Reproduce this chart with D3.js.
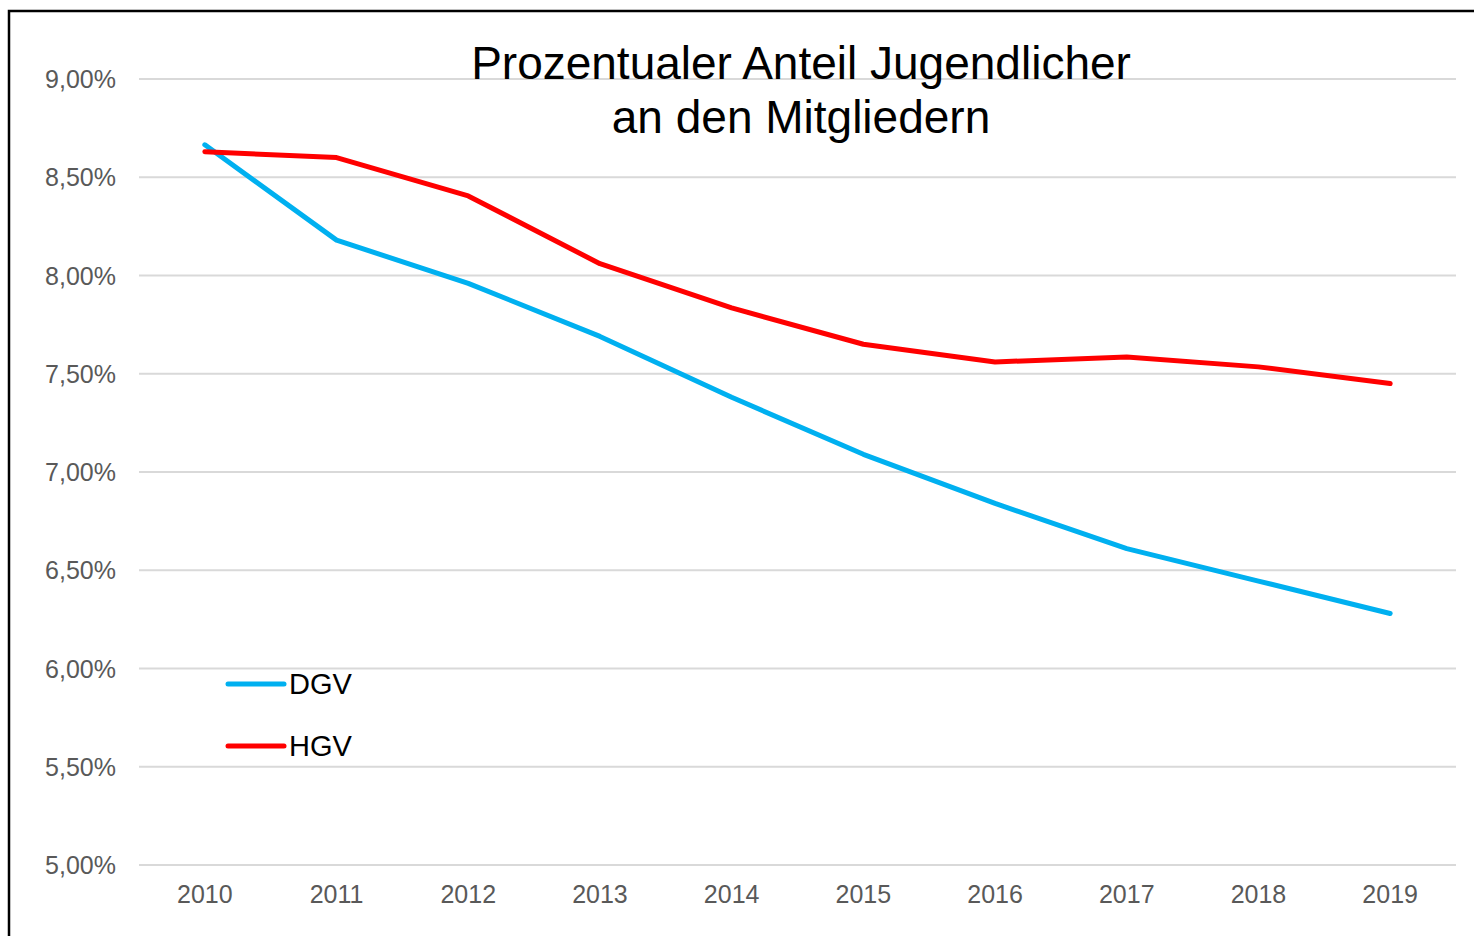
<!DOCTYPE html>
<html>
<head>
<meta charset="utf-8">
<script src="https://cdn.jsdelivr.net/npm/d3@7"></script>
<style>
  body { margin: 0; background: #fff; }
  text { font-family: "Liberation Sans", Arial, sans-serif; }
</style>
</head>
<body>
<div id="chart"></div>
<script>
// data
var years = ["2010", "2011", "2012", "2013", "2014", "2015", "2016", "2017", "2018", "2019"];
var dgv = [8.665, 8.18, 7.96, 7.69, 7.38, 7.09, 6.84, 6.61, 6.445, 6.28];
var hgv = [8.63, 8.60, 8.405, 8.06, 7.835, 7.65, 7.56, 7.585, 7.535, 7.45];
var yTicks = [5.0, 5.5, 6.0, 6.5, 7.0, 7.5, 8.0, 8.5, 9.0];
var seriesNames = ["DGV", "HGV"];
var seriesColors = ["#00b0f0", "#ff0000"];

var width = 1474, height = 936;
var margin = {top: 79, right: 18, bottom: 71, left: 139};

var svg = d3.select("#chart").append("svg")
    .attr("width", width)
    .attr("height", height);

// outer frame
svg.append("rect")
    .attr("x", 9).attr("y", 11)
    .attr("width", width + 20).attr("height", height + 20)
    .attr("fill", "none")
    .attr("stroke", "#000")
    .attr("stroke-width", 2.5);

var x = d3.scalePoint()
    .domain(years)
    .range([margin.left, width - margin.right])
    .padding(0.5);

var y = d3.scaleLinear()
    .domain([5, 9])
    .range([height - margin.bottom, margin.top]);

// gridlines
svg.append("g")
    .selectAll("line")
    .data(yTicks)
    .join("line")
    .attr("x1", margin.left)
    .attr("x2", width - margin.right)
    .attr("y1", function(d) { return y(d); })
    .attr("y2", function(d) { return y(d); })
    .attr("stroke", "#d9d9d9")
    .attr("stroke-width", 2);

// y labels
var fmt = function(d) { return d.toFixed(2).replace(".", ",") + "%"; };
svg.append("g")
    .selectAll("text")
    .data(yTicks)
    .join("text")
    .attr("x", 116)
    .attr("y", function(d) { return y(d) + 9; })
    .attr("text-anchor", "end")
    .attr("fill", "#595959")
    .style("font-size", "25px")
    .text(fmt);

// x labels
svg.append("g")
    .selectAll("text")
    .data(years)
    .join("text")
    .attr("x", function(d) { return x(d); })
    .attr("y", 903)
    .attr("text-anchor", "middle")
    .attr("fill", "#595959")
    .style("font-size", "25px")
    .text(function(d) { return d; });

// lines
var line = d3.line()
    .x(function(d, i) { return x(years[i]); })
    .y(function(d) { return y(d); });

[dgv, hgv].forEach(function(s, i) {
    svg.append("path")
        .datum(s)
        .attr("d", line)
        .attr("fill", "none")
        .attr("stroke", seriesColors[i])
        .attr("stroke-width", 5)
        .attr("stroke-linejoin", "round")
        .attr("stroke-linecap", "round");
});

// title
var title = svg.append("text")
    .attr("x", 801)
    .attr("text-anchor", "middle")
    .attr("fill", "#000")
    .style("font-size", "46px");
title.append("tspan").attr("x", 801).attr("y", 79).text("Prozentualer Anteil Jugendlicher");
title.append("tspan").attr("x", 801).attr("y", 133).text("an den Mitgliedern");

// legend
var legend = svg.append("g");
seriesNames.forEach(function(name, i) {
    var ly = 684 + i * 62;
    legend.append("line")
        .attr("x1", 228).attr("x2", 284)
        .attr("y1", ly).attr("y2", ly)
        .attr("stroke", seriesColors[i])
        .attr("stroke-width", 5)
        .attr("stroke-linecap", "round");
    legend.append("text")
        .attr("x", 289)
        .attr("y", ly + 10)
        .attr("fill", "#000")
        .style("font-size", "29px")
        .text(name);
});
</script>
</body>
</html>
